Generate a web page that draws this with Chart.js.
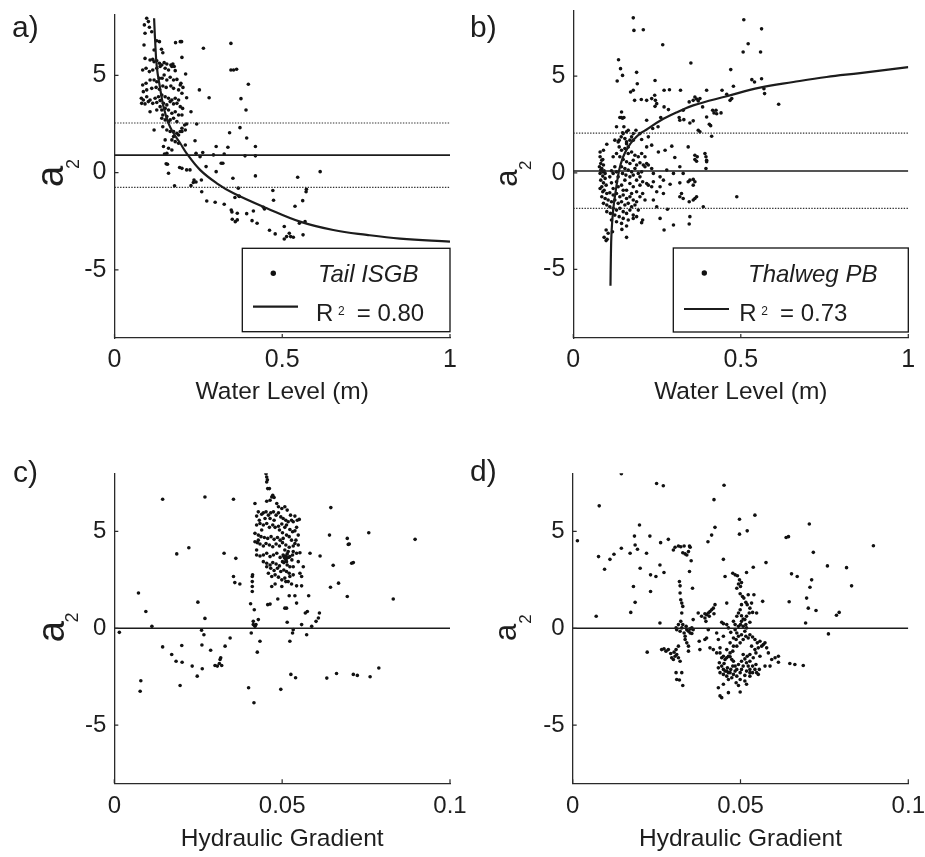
<!DOCTYPE html>
<html>
<head>
<meta charset="utf-8">
<script src="https://cdn.jsdelivr.net/npm/chart.js@4.4.1/dist/chart.umd.min.js"></script>
<style>
  html, body { margin: 0; padding: 0; background: #fff; overflow: hidden; }
  body { width: 925px; height: 857px; position: relative; }
  canvas { position: absolute; }
</style>
</head>
<body>
<canvas id="panelA" width="480" height="430" style="left:0;top:0"></canvas>
<canvas id="panelB" width="480" height="430" style="left:460px;top:0"></canvas>
<canvas id="panelC" width="480" height="417" style="left:0;top:440px"></canvas>
<canvas id="panelD" width="480" height="417" style="left:460px;top:440px"></canvas>
<script>
// ---------------------------------------------------------------
// Data: a2 against water level (a, b) and hydraulic gradient (c, d)
// ---------------------------------------------------------------
const X_TICKS_LEVEL = [0, 0.5, 1];
const X_TICKS_GRAD = [0, 0.05, 0.1];
const Y_TICKS = [-5, 0, 5];
const X_TITLE_LEVEL = 'Water Level (m)';
const X_TITLE_GRAD = 'Hydraulic Gradient';
const Y_LABEL = ['a', '2'];
const SERIES_A = 'Tail ISGB';
const SERIES_B = 'Thalweg PB';
const R2_A = '0.80';
const R2_B = '0.73';

// mean and +/- band of a2 (panels a, b)
const MEAN_A = 0.90, BAND_A = [2.55, -0.76];
const MEAN_B = 0.09, BAND_B = [2.05, -1.84];
const ZERO_LINE = 0;

// Tail ISGB: water level (m), a2
const LEVEL_TAIL = [
  [0.096,7.93],[0.101,7.76],[0.089,7.59],[0.104,7.47],[0.091,7.16],[0.111,7.24],[0.088,6.56],[0.126,6.78],
  [0.134,6.73],[0.118,6.30],[0.140,6.34],[0.144,6.16],[0.091,5.87],[0.106,5.79],[0.114,5.82],[0.118,5.70],
  [0.126,5.75],[0.134,5.62],[0.141,5.53],[0.148,5.65],[0.156,5.58],[0.168,5.53],[0.174,5.58],[0.178,5.45],
  [0.084,5.27],[0.094,5.36],[0.104,5.19],[0.114,5.27],[0.126,5.36],[0.136,5.45],[0.151,5.36],[0.161,5.27],
  [0.171,5.45],[0.181,5.24],[0.201,5.92],[0.182,6.68],[0.196,6.73],[0.200,6.73],[0.265,6.39],[0.347,6.64],
  [0.347,5.27],[0.355,5.27],[0.364,5.31],[0.212,5.07],[0.198,4.59],[0.084,4.50],[0.094,4.59],[0.106,4.76],
  [0.118,4.76],[0.126,4.67],[0.134,4.85],[0.142,4.85],[0.148,5.02],[0.156,4.76],[0.166,4.90],[0.176,4.76],
  [0.186,4.79],[0.196,4.50],[0.204,4.38],[0.086,4.16],[0.096,4.25],[0.111,4.33],[0.124,4.38],[0.134,4.28],
  [0.144,4.45],[0.154,4.38],[0.168,4.45],[0.176,4.33],[0.191,4.25],[0.201,4.08],[0.253,4.25],[0.282,3.85],
  [0.080,3.82],[0.086,3.73],[0.096,3.90],[0.106,3.73],[0.121,3.82],[0.131,3.90],[0.141,3.99],[0.151,3.90],
  [0.161,3.82],[0.171,3.73],[0.181,3.82],[0.191,3.73],[0.215,3.85],[0.377,3.80],[0.392,3.22],[0.399,4.54],
  [0.081,3.56],[0.091,3.53],[0.101,3.65],[0.114,3.56],[0.126,3.60],[0.136,3.70],[0.146,3.56],[0.156,3.48],
  [0.166,3.65],[0.176,3.53],[0.186,3.56],[0.196,3.39],[0.203,3.30],[0.228,3.13],[0.136,3.39],[0.141,3.22],
  [0.151,3.30],[0.161,3.22],[0.171,3.05],[0.181,3.13],[0.191,2.96],[0.201,2.96],[0.106,3.13],[0.126,3.22],
  [0.144,2.96],[0.156,2.88],[0.166,2.71],[0.176,2.79],[0.186,2.62],[0.141,2.79],[0.151,2.71],[0.161,2.62],
  [0.245,2.50],[0.374,2.31],[0.209,2.45],[0.215,2.50],[0.201,2.28],[0.196,2.11],[0.186,2.02],[0.176,2.11],
  [0.166,2.11],[0.156,2.19],[0.144,2.36],[0.118,2.19],[0.176,1.85],[0.191,1.93],[0.201,2.11],[0.211,2.19],
  [0.343,2.05],[0.394,1.78],[0.171,1.68],[0.181,1.59],[0.191,1.51],[0.151,1.68],[0.146,1.34],[0.161,1.25],
  [0.171,1.16],[0.149,0.96],[0.156,0.99],[0.211,1.42],[0.240,1.64],[0.303,1.34],[0.338,1.30],[0.420,1.34],
  [0.243,0.99],[0.263,1.03],[0.255,0.82],[0.295,0.91],[0.327,0.96],[0.389,0.86],[0.420,0.86],[0.154,0.45],
  [0.158,0.43],[0.194,0.26],[0.201,0.22],[0.215,0.14],[0.225,0.14],[0.161,-0.03],[0.273,0.31],[0.303,0.05],
  [0.318,0.48],[0.323,0.48],[0.420,-0.17],[0.353,-0.29],[0.179,-0.68],[0.237,-0.38],[0.243,-0.48],[0.235,-0.51],
  [0.228,-0.67],[0.259,-0.38],[0.260,-0.98],[0.369,-0.80],[0.372,-1.23],[0.359,-1.28],[0.371,-1.20],[0.572,-0.86],
  [0.571,-0.98],[0.613,0.05],[0.546,-0.24],[0.472,-0.92],[0.275,-1.46],[0.300,-1.52],[0.327,-1.63],[0.348,-1.92],
  [0.350,-2.02],[0.366,-2.09],[0.394,-2.11],[0.414,-1.97],[0.444,-1.78],[0.447,-1.87],[0.474,-1.42],[0.538,-1.73],
  [0.561,-1.44],[0.351,-2.40],[0.360,-2.52],[0.366,-2.43],[0.410,-2.47],[0.425,-2.60],[0.462,-2.96],[0.479,-3.15],
  [0.506,-2.77],[0.506,-3.41],[0.513,-3.29],[0.521,-3.12],[0.525,-3.29],[0.533,-3.32],[0.551,-2.60],[0.562,-3.20],
  [0.568,-2.52]
];

// fitted curve for Tail ISGB
const FIT_TAIL = [
  [0.118,7.93],[0.121,6.82],[0.126,5.45],[0.136,4.33],[0.146,3.39],[0.161,2.53],[0.176,2.02],[0.196,1.51],
  [0.215,0.99],[0.255,0.14],[0.305,-0.55],[0.355,-1.06],[0.454,-1.83],[0.553,-2.52],[0.652,-2.95],[0.752,-3.20],
  [0.851,-3.39],[1.000,-3.55]
];

// Thalweg PB: water level (m), a2
const LEVEL_THALWEG = [
  [0.179,8.02],[0.181,7.37],[0.209,7.40],[0.267,6.63],[0.135,5.85],[0.141,5.39],[0.147,5.04],[0.131,4.75],
  [0.189,5.20],[0.179,4.27],[0.191,4.61],[0.244,4.78],[0.234,3.84],[0.243,4.01],[0.245,3.75],[0.249,3.58],
  [0.244,3.44],[0.219,3.75],[0.203,3.79],[0.183,3.75],[0.171,4.18],[0.271,4.27],[0.287,4.30],[0.320,4.27],
  [0.351,5.68],[0.378,3.84],[0.363,3.92],[0.368,3.82],[0.398,4.27],[0.444,4.27],[0.458,4.06],[0.470,5.34],
  [0.478,4.48],[0.509,7.92],[0.522,6.68],[0.507,6.25],[0.533,4.82],[0.541,4.70],[0.562,7.45],[0.559,6.25],
  [0.562,4.87],[0.569,4.35],[0.571,4.10],[0.613,3.55],[0.473,3.84],[0.468,3.75],[0.139,2.86],[0.143,2.86],
  [0.147,2.82],[0.151,2.86],[0.144,3.15],[0.261,2.86],[0.271,3.41],[0.284,3.27],[0.318,2.72],[0.330,2.75],
  [0.348,2.58],[0.358,2.69],[0.373,2.20],[0.378,2.12],[0.398,2.89],[0.406,2.51],[0.410,2.44],[0.416,3.24],
  [0.420,3.10],[0.426,3.24],[0.428,3.06],[0.441,3.10],[0.413,1.89],[0.328,3.24],[0.346,3.67],[0.358,3.75],
  [0.373,3.72],[0.386,3.41],[0.316,2.86],[0.253,2.38],[0.237,2.29],[0.219,2.72],[0.199,2.03],[0.187,2.20],
  [0.164,2.20],[0.151,2.38],[0.147,2.07],[0.129,2.38],[0.124,1.69],[0.134,1.60],[0.159,1.51],[0.179,1.69],
  [0.204,1.72],[0.219,1.34],[0.234,1.43],[0.254,1.08],[0.274,1.17],[0.294,1.38],[0.303,0.79],[0.343,1.34],
  [0.363,0.91],[0.370,0.83],[0.398,0.65],[0.396,0.83],[0.393,1.00],[0.363,0.69],[0.368,0.60],[0.398,0.57],
  [0.396,0.22],[0.224,1.86],[0.090,1.17],[0.100,1.48],[0.080,1.08],[0.085,0.65],[0.090,0.40],[0.078,0.31],
  [0.082,0.14],[0.088,0.05],[0.095,-0.03],[0.080,0.83],[0.088,0.69],[0.082,0.48],[0.085,0.22],[0.092,0.10],
  [0.080,-0.03],[0.088,-0.17],[0.095,-0.29],[0.082,-0.38],[0.090,-0.52],[0.098,-0.64],[0.085,-0.72],[0.080,-0.81],
  [0.092,-0.90],[0.088,-0.98],[0.100,-1.07],[0.109,-1.03],[0.119,-1.15],[0.129,-1.07],[0.139,-1.24],[0.149,-1.15],
  [0.159,-1.33],[0.169,-1.24],[0.179,-1.41],[0.189,-1.50],[0.085,-1.24],[0.095,-1.33],[0.104,-1.41],[0.114,-1.50],
  [0.124,-1.41],[0.134,-1.58],[0.144,-1.50],[0.154,-1.67],[0.164,-1.58],[0.174,-1.76],[0.184,-1.67],[0.194,-1.93],
  [0.090,-1.58],[0.100,-1.67],[0.109,-1.76],[0.119,-1.84],[0.129,-1.93],[0.139,-1.84],[0.149,-2.01],[0.159,-2.10],
  [0.169,-1.93],[0.179,-2.19],[0.189,-2.27],[0.100,-2.01],[0.111,-2.10],[0.124,-2.19],[0.137,-2.27],[0.149,-2.36],
  [0.164,-2.44],[0.114,-2.44],[0.129,-2.53],[0.144,-2.62],[0.159,-2.75],[0.179,-2.36],[0.204,-2.58],[0.207,-2.44],
  [0.098,-2.96],[0.104,-3.13],[0.092,-3.34],[0.098,-3.51],[0.101,-3.44],[0.117,-3.05],[0.145,-2.93],[0.159,-3.34],
  [0.134,-0.72],[0.119,-0.81],[0.149,-0.90],[0.114,-0.52],[0.129,-0.46],[0.144,-0.64],[0.154,-0.38],[0.169,-0.55],
  [0.179,-0.72],[0.189,-0.38],[0.199,-0.64],[0.207,-0.46],[0.219,-0.55],[0.234,-0.72],[0.249,-0.98],[0.259,-0.72],
  [0.269,-1.07],[0.281,-1.89],[0.259,-2.36],[0.271,-2.96],[0.299,-2.70],[0.318,-1.24],[0.323,-1.07],[0.328,-1.33],
  [0.346,-1.50],[0.348,-2.27],[0.346,-2.65],[0.358,-1.41],[0.363,-1.33],[0.368,-1.24],[0.388,-1.76],[0.343,-0.46],
  [0.348,-0.38],[0.358,-0.34],[0.363,-0.46],[0.358,-0.64],[0.318,-0.52],[0.289,-0.59],[0.269,-0.38],[0.239,-0.46],
  [0.224,-0.64],[0.207,-1.07],[0.189,-0.98],[0.174,-1.07],[0.159,-0.90],[0.199,-1.24],[0.214,-1.41],[0.239,-1.41],
  [0.249,-1.76],[0.137,1.34],[0.144,1.17],[0.154,1.26],[0.164,1.00],[0.174,1.08],[0.184,0.91],[0.194,0.83],
  [0.204,1.00],[0.214,0.83],[0.139,0.83],[0.149,0.69],[0.159,0.57],[0.169,0.48],[0.179,0.65],[0.189,0.40],
  [0.199,0.52],[0.209,0.40],[0.219,0.48],[0.144,0.31],[0.154,0.22],[0.164,0.14],[0.174,0.05],[0.184,0.22],
  [0.194,-0.03],[0.204,0.05],[0.214,0.31],[0.224,0.40],[0.234,0.22],[0.147,-0.03],[0.157,-0.12],[0.169,-0.21],
  [0.179,-0.12],[0.199,-0.21],[0.129,0.05],[0.124,0.31],[0.119,-0.03],[0.134,-0.21],[0.109,-0.21],[0.114,0.10],
  [0.119,0.83],[0.129,1.00],[0.239,-0.03],[0.259,-0.21],[0.279,0.14],[0.299,-0.03],[0.318,0.31],[0.328,-0.03],
  [0.137,1.69],[0.143,1.86],[0.149,2.03],[0.154,1.77],[0.159,1.60],[0.164,1.34],[0.169,1.69],[0.174,1.86],
  [0.179,2.03],[0.159,2.12],[0.488,-1.24]
];

// fitted curve for Thalweg PB
const FIT_THALWEG = [
  [0.111,-5.85],[0.112,-4.51],[0.114,-3.13],[0.119,-1.93],[0.127,-0.90],[0.137,0.14],[0.149,0.83],[0.164,1.34],
  [0.179,1.69],[0.199,2.03],[0.219,2.24],[0.259,2.69],[0.308,3.12],[0.358,3.49],[0.458,3.96],[0.557,4.41],
  [0.657,4.70],[0.756,4.96],[0.856,5.16],[1.000,5.47]
];

// Tail ISGB: hydraulic gradient, a2
const GRAD_TAIL = [
  [0.0015,-0.21],[0.0072,1.82],[0.0079,-2.71],[0.0077,-3.25],[0.0094,0.87],[0.0112,0.10],[0.0144,-0.96],[0.0144,6.66],
  [0.0171,-1.35],[0.0184,-1.70],[0.0186,3.84],[0.0196,-2.95],[0.0201,-0.89],[0.0202,-1.75],[0.0222,4.16],[0.0232,-1.95],
  [0.0247,-2.47],[0.0249,1.35],[0.0260,-0.10],[0.0261,-0.86],[0.0262,-2.09],[0.0267,-0.33],[0.0270,0.51],[0.0270,6.78],
  [0.0287,-1.13],[0.0300,-1.92],[0.0307,-1.95],[0.0313,-1.82],[0.0315,-1.61],[0.0317,-1.52],[0.0320,-1.92],[0.0327,3.87],
  [0.0330,-0.92],[0.0345,-0.50],[0.0355,6.66],[0.0355,2.67],[0.0359,2.36],[0.0362,3.61],[0.0374,2.29],[0.0400,-3.07],
  [0.0406,1.27],[0.0408,-0.24],[0.0412,2.76],[0.0414,0.36],[0.0414,0.19],[0.0416,-3.84],[0.0417,0.96],[0.0419,0.10],
  [0.0422,0.19],[0.0426,-1.23],[0.0429,0.45],[0.0434,-0.67],[0.0457,1.22],[0.0464,1.25],[0.0487,1.51],[0.0496,-3.15],
  [0.0508,1.04],[0.0513,1.04],[0.0515,0.31],[0.0521,1.68],[0.0523,-0.67],[0.0526,-2.38],[0.0531,-0.24],[0.0533,-0.07],
  [0.0538,1.68],[0.0540,-2.55],[0.0543,1.30],[0.0558,0.19],[0.0563,3.18],[0.0569,0.79],[0.0573,-0.33],[0.0575,0.87],
  [0.0579,1.68],[0.0583,3.87],[0.0588,0.10],[0.0601,0.36],[0.0608,0.53],[0.0611,0.79],[0.0613,3.73],[0.0641,4.81],
  [0.0644,2.12],[0.0645,6.23],[0.0652,3.25],[0.0633,-2.57],[0.0662,-2.33],[0.0668,2.33],[0.0694,1.64],[0.0694,4.64],
  [0.0697,4.33],[0.0700,4.35],[0.0707,3.36],[0.0712,3.39],[0.0712,-2.38],[0.0724,-2.43],[0.0758,4.93],[0.0762,-2.50],
  [0.0788,-2.05],[0.0831,1.51],[0.0896,4.59],[0.0411,2.67],[0.0411,2.41],[0.0411,2.16],[0.0411,1.90],
  [0.0452,7.98],[0.0454,7.81],[0.0456,7.67],[0.0454,7.55],[0.0457,7.21],[0.0462,7.21],[0.0469,6.78],[0.0472,6.87],
  [0.0476,6.75],[0.0454,6.56],[0.0464,6.61],[0.0484,6.44],[0.0489,6.27],[0.0419,6.44],[0.0429,6.01],[0.0439,5.89],
  [0.0444,5.96],[0.0452,6.01],[0.0459,5.84],[0.0466,5.96],[0.0474,6.01],[0.0482,5.84],[0.0489,5.96],[0.0496,5.75],
  [0.0503,5.67],[0.0511,5.58],[0.0518,5.50],[0.0528,5.58],[0.0533,5.50],[0.0545,5.58],[0.0551,5.62],[0.0424,5.33],
  [0.0434,5.41],[0.0444,5.33],[0.0454,5.41],[0.0462,5.21],[0.0472,5.33],[0.0479,5.21],[0.0489,5.27],[0.0499,5.38],
  [0.0508,5.21],[0.0513,5.33],[0.0523,5.10],[0.0531,4.98],[0.0538,5.03],[0.0419,4.90],[0.0429,4.81],[0.0437,4.73],
  [0.0447,4.69],[0.0457,4.64],[0.0467,4.73],[0.0476,4.59],[0.0486,4.69],[0.0494,4.55],[0.0503,4.64],[0.0513,4.81],
  [0.0521,4.73],[0.0528,4.55],[0.0541,4.55],[0.0419,4.47],[0.0426,4.42],[0.0434,4.35],[0.0444,4.25],[0.0452,4.38],
  [0.0462,4.30],[0.0472,4.21],[0.0482,4.35],[0.0492,4.25],[0.0501,4.42],[0.0511,4.30],[0.0521,4.18],[0.0533,4.25],
  [0.0548,4.30],[0.0424,3.78],[0.0434,3.73],[0.0444,3.78],[0.0454,3.87],[0.0464,3.70],[0.0474,3.78],[0.0484,3.87],
  [0.0494,3.66],[0.0503,3.78],[0.0513,3.61],[0.0523,3.70],[0.0531,3.78],[0.0543,3.87],[0.0553,3.90],[0.0444,3.44],
  [0.0454,3.36],[0.0464,3.27],[0.0472,3.39],[0.0482,3.32],[0.0492,3.22],[0.0501,3.44],[0.0511,3.53],[0.0515,3.27],
  [0.0523,3.18],[0.0454,3.18],[0.0466,3.10],[0.0476,2.98],[0.0486,3.10],[0.0496,2.93],[0.0505,3.01],[0.0513,2.93],
  [0.0521,2.84],[0.0533,2.76],[0.0459,2.84],[0.0469,2.67],[0.0479,2.76],[0.0489,2.64],[0.0499,2.50],[0.0508,2.59],
  [0.0518,2.41],[0.0528,2.29],[0.0543,2.19],[0.0558,2.19],[0.0469,2.16],[0.0479,2.29],[0.0499,2.16],[0.0511,2.41],
  [0.0523,2.67],[0.0533,3.18],[0.0548,3.44],[0.0553,2.84],[0.0558,2.67],[0.0424,4.04],[0.0429,4.55],[0.0439,5.07],
  [0.0449,5.67],[0.0464,5.67],[0.0476,5.58],[0.0499,6.18],[0.0508,6.27],[0.0515,6.10],[0.0525,5.84],[0.0538,5.79],
  [0.0543,5.21],[0.0548,4.81],[0.0424,5.79],[0.0432,5.58],[0.0492,5.07],[0.0501,4.93],[0.0508,4.04],[0.0518,3.96],
  [0.0529,3.53],[0.0533,3.96],[0.0538,4.38],[0.0505,3.70],[0.0508,3.61],[0.0511,3.73],[0.0515,3.84],[0.0519,3.66],
  [0.0513,3.44],[0.0505,3.39]
];

// Thalweg PB: hydraulic gradient, a2
const GRAD_THALWEG = [
  [0.0014,4.52],[0.0070,0.62],[0.0077,3.70],[0.0079,6.32],[0.0095,3.05],[0.0111,3.56],[0.0123,3.82],[0.0145,7.98],
  [0.0145,4.13],[0.0171,3.87],[0.0173,0.82],[0.0181,2.16],[0.0184,4.76],[0.0186,1.34],[0.0186,4.30],[0.0193,4.08],
  [0.0199,5.33],[0.0201,3.10],[0.0220,3.87],[0.0222,-1.23],[0.0230,4.76],[0.0232,1.90],[0.0232,2.76],[0.0248,2.67],
  [0.0250,7.47],[0.0260,0.27],[0.0260,3.27],[0.0262,4.42],[0.0265,-1.10],[0.0270,7.36],[0.0272,2.88],[0.0285,4.59],
  [0.0300,4.04],[0.0305,4.18],[0.0315,4.25],[0.0322,4.21],[0.0332,4.25],[0.0348,4.25],[0.0350,4.18],[0.0328,3.90],
  [0.0335,3.84],[0.0340,3.78],[0.0345,3.96],[0.0353,3.49],[0.0348,2.93],[0.0357,2.07],[0.0403,4.47],[0.0414,4.81],
  [0.0421,6.64],[0.0424,5.21],[0.0449,3.56],[0.0451,7.38],[0.0454,2.67],[0.0459,1.30],[0.0497,5.63],[0.0497,4.86],
  [0.0520,5.03],[0.0518,2.88],[0.0538,3.15],[0.0543,5.84],[0.0566,1.39],[0.0576,3.39],[0.0636,4.69],[0.0643,4.73],
  [0.0645,1.37],[0.0652,2.81],[0.0669,2.67],[0.0694,0.27],[0.0697,1.56],[0.0702,1.04],[0.0705,5.38],[0.0707,2.12],
  [0.0712,2.50],[0.0717,3.92],[0.0725,0.92],[0.0759,3.22],[0.0762,-0.29],[0.0786,0.67],[0.0794,0.82],[0.0816,3.13],
  [0.0831,2.19],[0.0896,4.26],[0.0647,-1.82],[0.0662,-1.87],[0.0687,-1.92],[0.0573,-0.75],[0.0578,-1.01],[0.0583,-1.27],
  [0.0593,-1.61],[0.0603,-1.52],[0.0613,-1.44],[0.0613,-1.75],[0.0588,-1.95],
  [0.0318,2.41],[0.0320,2.19],[0.0320,1.82],[0.0322,1.47],[0.0325,1.30],[0.0328,1.13],[0.0325,0.79],[0.0322,0.36],
  [0.0328,0.19],[0.0325,0.02],[0.0332,-0.24],[0.0335,-0.41],[0.0320,-0.15],[0.0310,-0.07],[0.0308,0.02],[0.0315,0.19],
  [0.0338,0.10],[0.0340,-0.07],[0.0345,-0.15],[0.0350,-0.24],[0.0335,-0.58],[0.0340,-0.75],[0.0345,-0.92],[0.0345,-1.18],
  [0.0350,-0.03],[0.0355,0.02],[0.0359,-0.07],[0.0355,-0.27],[0.0315,-0.92],[0.0308,-1.10],[0.0302,-1.23],[0.0310,-1.35],
  [0.0315,-1.52],[0.0320,-1.70],[0.0305,-1.44],[0.0300,-1.61],[0.0285,-1.10],[0.0292,-1.30],[0.0295,-1.52],[0.0308,-2.29],
  [0.0310,-2.64],[0.0318,-2.67],[0.0328,-2.95],[0.0325,-2.29],[0.0272,-1.06],[0.0278,-1.18],
  [0.0359,0.45],[0.0374,0.79],[0.0384,0.62],[0.0394,0.53],[0.0399,0.70],[0.0404,0.79],[0.0409,0.87],[0.0414,0.96],
  [0.0419,1.04],[0.0424,1.22],[0.0394,0.75],[0.0407,0.62],[0.0421,0.75],[0.0397,0.36],[0.0404,-0.07],[0.0399,-0.50],
  [0.0394,-0.58],[0.0377,-0.67],[0.0379,-1.10],[0.0409,-1.01],[0.0419,-1.10],[0.0429,-1.27],[0.0439,-1.01],[0.0434,-0.58],
  [0.0449,-0.41],[0.0429,-0.24],[0.0444,0.31],[0.0449,0.24],[0.0459,0.19],[0.0464,0.02],[0.0471,-0.21],[0.0479,0.36],
  [0.0484,0.19],
  [0.0477,2.84],[0.0484,2.76],[0.0491,2.71],[0.0497,2.50],[0.0503,2.36],[0.0494,2.29],[0.0500,2.16],[0.0489,2.07],
  [0.0499,1.78],[0.0506,1.64],[0.0510,1.56],[0.0516,1.34],[0.0520,1.22],[0.0503,1.22],[0.0499,0.96],[0.0494,0.79],
  [0.0489,0.62],[0.0503,0.65],[0.0508,0.48],[0.0513,0.45],[0.0518,0.62],[0.0526,0.79],[0.0533,1.30],[0.0540,1.73],
  [0.0523,1.73],[0.0528,1.04],[0.0536,0.82],[0.0548,0.79],[0.0500,0.19],[0.0508,0.10],[0.0516,0.19],[0.0528,0.31],
  [0.0439,-1.27],[0.0444,-1.52],[0.0449,-1.44],[0.0454,-1.61],[0.0459,-1.52],[0.0464,-1.44],[0.0469,-1.47],[0.0474,-1.61],
  [0.0479,-1.70],[0.0469,-1.27],[0.0477,-1.18],[0.0459,-1.10],[0.0489,-0.92],[0.0499,-0.75],[0.0508,-0.58],[0.0516,-0.41],
  [0.0523,-0.50],[0.0528,-0.33],[0.0536,-0.45],[0.0543,-0.58],[0.0550,-0.75],[0.0558,-0.67],[0.0563,-0.92],[0.0568,-0.84],
  [0.0553,-1.01],[0.0546,-1.27],[0.0538,-1.52],[0.0528,-1.70],[0.0518,-1.78],[0.0508,-1.95],[0.0503,-2.12],[0.0499,-2.29],
  [0.0489,-2.12],[0.0484,-1.95],[0.0494,-1.87],[0.0503,-1.70],[0.0513,-1.58],[0.0520,-1.44],[0.0528,-1.35],[0.0536,-1.95],
  [0.0543,-2.12],[0.0548,-2.29],[0.0553,-2.38],[0.0528,-2.29],[0.0518,-2.21],[0.0513,-2.43],[0.0499,-2.64],[0.0489,-2.47],
  [0.0479,-2.38],[0.0469,-2.29],[0.0459,-2.21],[0.0449,-2.12],[0.0444,-1.95],[0.0439,-2.29],[0.0449,-2.38],[0.0459,-2.47],
  [0.0464,-2.64],[0.0434,-2.04],[0.0437,-1.78],[0.0451,-1.82],[0.0461,-2.04],[0.0471,-2.12],[0.0477,-1.95],[0.0484,-2.21],
  [0.0454,-2.21],[0.0464,-2.29],[0.0474,-2.55],[0.0487,-2.81],[0.0494,-2.95],[0.0449,-2.89],[0.0434,-3.07],[0.0439,-3.49],
  [0.0444,-3.58],[0.0464,-3.32],[0.0499,-3.29],[0.0518,-2.89],[0.0528,-2.12],[0.0513,-2.72],[0.0523,-1.95],[0.0508,-1.35],
  [0.0533,-0.92],[0.0543,-1.10],[0.0558,-1.44],[0.0573,-1.95],[0.0536,-2.29],[0.0546,-1.87],[0.0556,-2.12],[0.0528,-2.47],
  [0.0479,-0.50],[0.0469,-0.75],[0.0479,-0.92],[0.0487,-0.58],[0.0494,-0.41],[0.0489,-0.24],[0.0503,-0.33],[0.0513,-0.15],
  [0.0518,0.02],[0.0503,0.36],[0.0494,0.10],[0.0484,-0.07]
];

// ---------------------------------------------------------------
// Styling
// ---------------------------------------------------------------
const FONT_FAMILY = '"Liberation Sans", Arial, Helvetica, sans-serif';
const TEXT_COLOR = '#1e1e1e';
const AXIS_COLOR = '#2a2a2a';
const DOT_COLOR = '#111';
const LINE_COLOR = '#1c1c1c';

const toXY = arr => arr.map(([x, y]) => ({ x, y }));
const hline = (y, x0, x1) => [{ x: x0, y }, { x: x1, y }];

// axis decorations, a_2 label, panel letter and the boxed legend
const panelDecor = {
  id: 'panelDecor',
  afterDraw(chart, args, o) {
    const { ctx, chartArea: ca, scales: { x, y } } = chart;
    ctx.save();

    // MATLAB style inward tick marks
    ctx.strokeStyle = AXIS_COLOR;
    ctx.lineWidth = 1.2;
    ctx.beginPath();
    x.ticks.forEach(t => {
      const px = x.getPixelForValue(t.value);
      ctx.moveTo(px, ca.bottom);
      ctx.lineTo(px, ca.bottom - 4);
    });
    y.ticks.forEach(t => {
      const py = y.getPixelForValue(t.value);
      ctx.moveTo(ca.left, py);
      ctx.lineTo(ca.left + 4, py);
    });
    ctx.stroke();

    ctx.fillStyle = TEXT_COLOR;
    ctx.textAlign = 'left';
    ctx.textBaseline = 'alphabetic';

    // panel letter
    ctx.font = `30px ${FONT_FAMILY}`;
    ctx.fillText(o.letter, ca.left + o.letterPos[0], ca.top + o.letterPos[1]);

    // rotated a_2 label
    const cy = (ca.top + ca.bottom) / 2;
    const rot = (txt, px, py, size, k) => {
      ctx.save();
      ctx.translate(px + size * k / 2, py);
      ctx.rotate(-Math.PI / 2);
      ctx.font = `${size}px ${FONT_FAMILY}`;
      ctx.textAlign = 'center';
      ctx.fillText(txt, 0, 0);
      ctx.restore();
    };
    rot(Y_LABEL[0], ca.left + o.aLab[0], cy + o.aLab[1], o.aLab[2], 0.53);
    rot(Y_LABEL[1], ca.left + o.subLab[0], cy + o.subLab[1], o.subLab[2], 0.72);

    // legend box
    const lg = o.legend;
    if (lg) {
      const bx = ca.right - lg.w;
      const by = ca.bottom - lg.gap - lg.h;
      ctx.fillStyle = '#fff';
      ctx.fillRect(bx, by, lg.w, lg.h);
      ctx.strokeStyle = '#111';
      ctx.lineWidth = 1.3;
      ctx.strokeRect(bx, by, lg.w, lg.h);

      ctx.fillStyle = DOT_COLOR;
      ctx.beginPath();
      ctx.arc(bx + 31, by + 25, 2.7, 0, Math.PI * 2);
      ctx.fill();

      ctx.fillStyle = TEXT_COLOR;
      ctx.font = `italic 24px ${FONT_FAMILY}`;
      ctx.fillText(lg.name, bx + lg.textX, by + 33.5);

      ctx.strokeStyle = LINE_COLOR;
      ctx.lineWidth = 2.2;
      ctx.beginPath();
      ctx.moveTo(bx + 10.7, by + lg.lineY);
      ctx.lineTo(bx + 55.7, by + lg.lineY);
      ctx.stroke();

      ctx.font = `24px ${FONT_FAMILY}`;
      ctx.fillText('R', bx + lg.rX, by + 73);
      ctx.font = `12px ${FONT_FAMILY}`;
      ctx.fillText('2', bx + lg.rX + 22, by + 66.5);
      ctx.font = `24px ${FONT_FAMILY}`;
      ctx.fillText('= ' + lg.r2, bx + lg.rX + 40.7, by + 73);
    }
    ctx.restore();
  }
};

function buildPanel(cfg) {
  const xMax = cfg.xTicks[cfg.xTicks.length - 1];
  const datasets = [];
  if (cfg.fit) {
    datasets.push({
      data: toXY(cfg.fit), showLine: true, pointRadius: 0,
      borderColor: LINE_COLOR, borderWidth: 2.2, tension: 0.4
    });
  }
  datasets.push({
    data: hline(cfg.mean, 0, xMax), showLine: true, pointRadius: 0,
    borderColor: LINE_COLOR, borderWidth: 1.6
  });
  (cfg.band || []).forEach(v => datasets.push({
    data: hline(v, 0, xMax), showLine: true, pointRadius: 0,
    borderColor: '#333', borderWidth: 1.2, borderDash: [1.4, 1.4]
  }));
  datasets.push({
    data: toXY(cfg.points), showLine: false, pointRadius: 1.8,
    pointBackgroundColor: DOT_COLOR, pointBorderWidth: 0
  });

  const tickFont = { family: FONT_FAMILY, size: cfg.tickSize };
  return new Chart(document.getElementById(cfg.id), {
    type: 'scatter',
    data: { datasets },
    options: {
      responsive: false,
      animation: false,
      events: [],
      layout: { padding: { top: cfg.padTop, right: cfg.padRight, left: 0, bottom: 0 } },
      plugins: {
        legend: { display: false },
        tooltip: { enabled: false },
        panelDecor: cfg.decor
      },
      scales: {
        x: {
          type: 'linear', min: 0, max: xMax,
          afterBuildTicks: s => { s.ticks = cfg.xTicks.map(v => ({ value: v })); },
          afterFit: s => { s.height = cfg.xHeight; s.paddingLeft = 0; s.paddingRight = 0; },
          ticks: { callback: v => String(v), font: tickFont, color: TEXT_COLOR, padding: cfg.tickPadX, maxRotation: 0, autoSkip: false },
          grid: { display: false, drawTicks: false },
          border: { display: true, color: AXIS_COLOR, width: 1.3 },
          title: {
            display: true, text: cfg.xTitle, color: TEXT_COLOR,
            font: { family: FONT_FAMILY, size: 24.5 },
            padding: { top: 0, bottom: cfg.titlePad }
          }
        },
        y: {
          type: 'linear', min: cfg.yRange[0], max: cfg.yRange[1],
          afterBuildTicks: s => { s.ticks = Y_TICKS.map(v => ({ value: v })); },
          afterFit: s => { s.width = cfg.yWidth; s.paddingTop = 0; s.paddingBottom = 0; },
          ticks: { callback: v => String(v), font: tickFont, color: TEXT_COLOR, padding: 8, autoSkip: false },
          grid: { display: false, drawTicks: false },
          border: { display: true, color: AXIS_COLOR, width: 1.3 }
        }
      }
    },
    plugins: [panelDecor]
  });
}

buildPanel({
  id: 'panelA', points: LEVEL_TAIL, fit: FIT_TAIL, mean: MEAN_A, band: BAND_A,
  xTicks: X_TICKS_LEVEL, xTitle: X_TITLE_LEVEL, yRange: [-8.5, 8.1],
  padTop: 15, padRight: 30, yWidth: 114.5, xHeight: 92, tickSize: 25, tickPadX: 7, titlePad: 23,
  decor: {
    letter: 'a)', letterPos: [-102.5, 22], aLab: [-61.5, 0, 38], subLab: [-41.5, -12.5, 18],
    legend: { name: SERIES_A, r2: R2_A, w: 207.7, h: 83.4, gap: 6.3, textX: 75.7, lineY: 58.4, rX: 73.7 }
  }
});

buildPanel({
  id: 'panelB', points: LEVEL_THALWEG, fit: FIT_THALWEG, mean: MEAN_B, band: BAND_B,
  xTicks: X_TICKS_LEVEL, xTitle: X_TITLE_LEVEL, yRange: [-8.55, 8.4],
  padTop: 10.5, padRight: 31.7, yWidth: 113.3, xHeight: 92, tickSize: 25, tickPadX: 7, titlePad: 23,
  decor: {
    letter: 'b)', letterPos: [-103.3, 26.5], aLab: [-64.8, 4, 31], subLab: [-48.8, -9, 17],
    legend: { name: SERIES_B, r2: R2_B, w: 235, h: 84, gap: 6, textX: 74.7, lineY: 61, rX: 66 }
  }
});

buildPanel({
  id: 'panelC', points: GRAD_TAIL, mean: ZERO_LINE,
  xTicks: X_TICKS_GRAD, xTitle: X_TITLE_GRAD, yRange: [-8, 8],
  padTop: 33.3, padRight: 30, yWidth: 114.3, xHeight: 73.7, tickSize: 24, tickPadX: 9, titlePad: 3,
  decor: { letter: 'c)', letterPos: [-101.3, 8.7], aLab: [-60.6, 3.4, 38], subLab: [-42.6, -10.8, 18] }
});

buildPanel({
  id: 'panelD', points: GRAD_THALWEG, mean: ZERO_LINE,
  xTicks: X_TICKS_GRAD, xTitle: X_TITLE_GRAD, yRange: [-8, 8],
  padTop: 33.3, padRight: 31.7, yWidth: 112.7, xHeight: 73.7, tickSize: 24, tickPadX: 9, titlePad: 3,
  decor: { letter: 'd)', letterPos: [-102.7, 7.7], aLab: [-64.7, 4, 31], subLab: [-48.2, -9.3, 17] }
});
</script>
</body>
</html>
